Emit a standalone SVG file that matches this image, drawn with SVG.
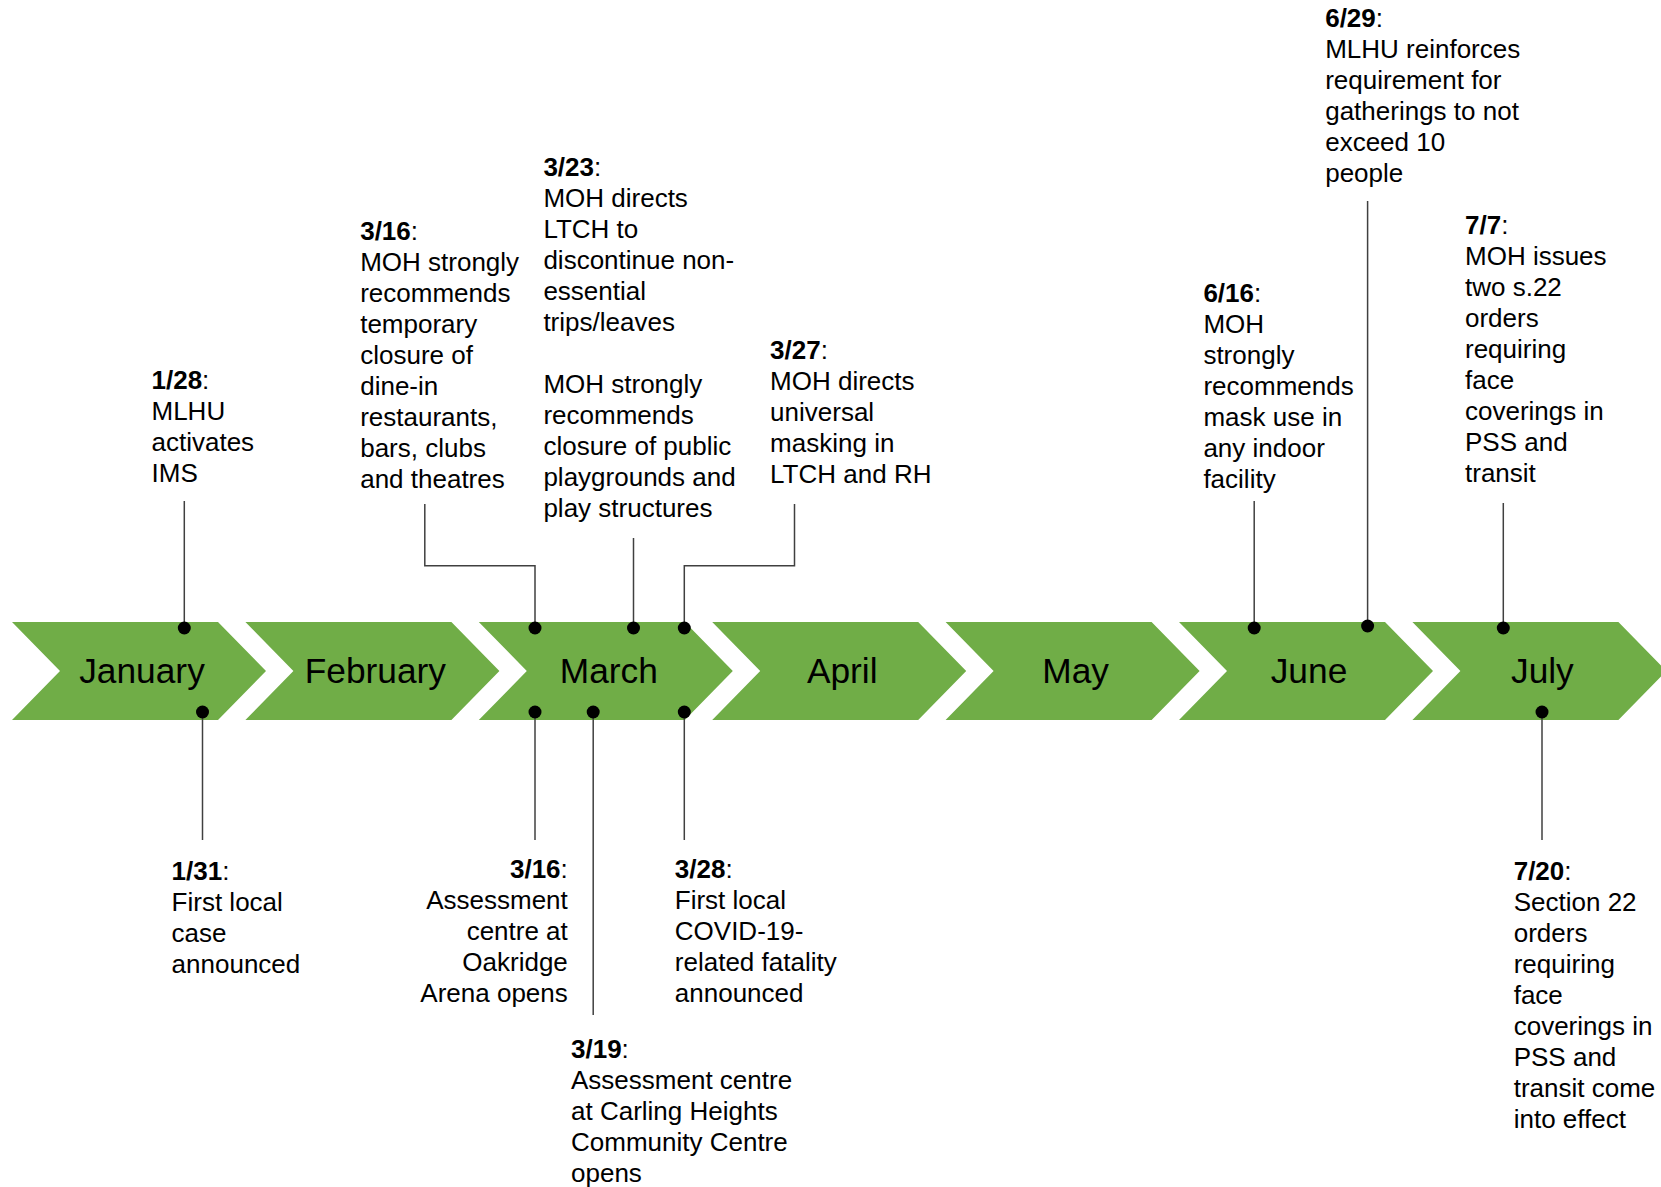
<svg xmlns="http://www.w3.org/2000/svg" width="1661" height="1187" viewBox="0 0 1661 1187">
<style>
.chev{fill:#70AD47}
.mon{font-family:"Liberation Sans",Arial,sans-serif;font-size:35.3px;fill:#000;text-anchor:middle}
.t{font-family:"Liberation Sans",Arial,sans-serif;font-size:26px;fill:#000}
.b{font-weight:bold}
.ln{fill:none;stroke:#404040;stroke-width:1.5}
.dot{fill:#000}
</style>
<defs>
<path id="chv" d="M0 622 H206 L254 671 L206 720 H0 L48 671 Z"/>
</defs>
<rect width="1661" height="1187" fill="#fff"/>
<g id="months">
<g id="m-jan"><use href="#chv" class="chev" x="12"/><text class="mon" x="142" y="682.5">January</text></g>
<g id="m-feb"><use href="#chv" class="chev" x="245.4"/><text class="mon" x="375.4" y="682.5">February</text></g>
<g id="m-mar"><use href="#chv" class="chev" x="478.8"/><text class="mon" x="608.8" y="682.5">March</text></g>
<g id="m-apr"><use href="#chv" class="chev" x="712.2"/><text class="mon" x="842.2" y="682.5">April</text></g>
<g id="m-may"><use href="#chv" class="chev" x="945.6"/><text class="mon" x="1075.6" y="682.5">May</text></g>
<g id="m-jun"><use href="#chv" class="chev" x="1179"/><text class="mon" x="1309" y="682.5">June</text></g>
<g id="m-jul"><use href="#chv" class="chev" x="1412.4"/><text class="mon" x="1542.4" y="682.5">July</text></g>
</g>
<g id="connectors">
<path class="ln" d="M184.3 501 V628"/>
<path class="ln" d="M424.8 504 V565.7 H535 V628"/>
<path class="ln" d="M633.5 538 V628"/>
<path class="ln" d="M794.5 504 V565.7 H684.3 V628"/>
<path class="ln" d="M1254.2 501 V628"/>
<path class="ln" d="M1367.6 201 V626"/>
<path class="ln" d="M1503.3 503 V628"/>
<path class="ln" d="M202.5 712 V840"/>
<path class="ln" d="M535 712 V840"/>
<path class="ln" d="M593.2 712 V1015"/>
<path class="ln" d="M684.3 712 V840"/>
<path class="ln" d="M1542 712 V840"/>
<circle class="dot" cx="184.3" cy="628" r="6.5"/>
<circle class="dot" cx="535" cy="628" r="6.5"/>
<circle class="dot" cx="633.5" cy="628" r="6.5"/>
<circle class="dot" cx="684.3" cy="628" r="6.5"/>
<circle class="dot" cx="1254.2" cy="628" r="6.5"/>
<circle class="dot" cx="1367.6" cy="626" r="6.5"/>
<circle class="dot" cx="1503.3" cy="628" r="6.5"/>
<circle class="dot" cx="202.5" cy="712" r="6.5"/>
<circle class="dot" cx="535" cy="712" r="6.5"/>
<circle class="dot" cx="593.2" cy="712" r="6.5"/>
<circle class="dot" cx="684.3" cy="712" r="6.5"/>
<circle class="dot" cx="1542" cy="712" r="6.5"/>
</g>
<g id="e-0128"><text class="t" x="151.5" y="388.5"><tspan class="b">1/28</tspan>:<tspan x="151.5" dy="31">MLHU</tspan><tspan x="151.5" dy="31">activates</tspan><tspan x="151.5" dy="31">IMS</tspan></text></g>
<g id="e-0316a"><text class="t" x="360.2" y="239.5"><tspan class="b">3/16</tspan>:<tspan x="360.2" dy="31">MOH strongly</tspan><tspan x="360.2" dy="31">recommends</tspan><tspan x="360.2" dy="31">temporary</tspan><tspan x="360.2" dy="31">closure of</tspan><tspan x="360.2" dy="31">dine-in</tspan><tspan x="360.2" dy="31">restaurants,</tspan><tspan x="360.2" dy="31">bars, clubs</tspan><tspan x="360.2" dy="31">and theatres</tspan></text></g>
<g id="e-0323"><text class="t" x="543.4" y="175.8"><tspan class="b">3/23</tspan>:<tspan x="543.4" dy="31">MOH directs</tspan><tspan x="543.4" dy="31">LTCH to</tspan><tspan x="543.4" dy="31">discontinue non-</tspan><tspan x="543.4" dy="31">essential</tspan><tspan x="543.4" dy="31">trips/leaves</tspan><tspan x="543.4" dy="62">MOH strongly</tspan><tspan x="543.4" dy="31">recommends</tspan><tspan x="543.4" dy="31">closure of public</tspan><tspan x="543.4" dy="31">playgrounds and</tspan><tspan x="543.4" dy="31">play structures</tspan></text></g>
<g id="e-0327"><text class="t" x="770.1" y="359"><tspan class="b">3/27</tspan>:<tspan x="770.1" dy="31">MOH directs</tspan><tspan x="770.1" dy="31">universal</tspan><tspan x="770.1" dy="31">masking in</tspan><tspan x="770.1" dy="31">LTCH and RH</tspan></text></g>
<g id="e-0616"><text class="t" x="1203.4" y="301.8"><tspan class="b">6/16</tspan>:<tspan x="1203.4" dy="31">MOH</tspan><tspan x="1203.4" dy="31">strongly</tspan><tspan x="1203.4" dy="31">recommends</tspan><tspan x="1203.4" dy="31">mask use in</tspan><tspan x="1203.4" dy="31">any indoor</tspan><tspan x="1203.4" dy="31">facility</tspan></text></g>
<g id="e-0629"><text class="t" x="1325.2" y="27"><tspan class="b">6/29</tspan>:<tspan x="1325.2" dy="31">MLHU reinforces</tspan><tspan x="1325.2" dy="31">requirement for</tspan><tspan x="1325.2" dy="31">gatherings to not</tspan><tspan x="1325.2" dy="31">exceed 10</tspan><tspan x="1325.2" dy="31">people</tspan></text></g>
<g id="e-0707"><text class="t" x="1465" y="234"><tspan class="b">7/7</tspan>:<tspan x="1465" dy="31">MOH issues</tspan><tspan x="1465" dy="31">two s.22</tspan><tspan x="1465" dy="31">orders</tspan><tspan x="1465" dy="31">requiring</tspan><tspan x="1465" dy="31">face</tspan><tspan x="1465" dy="31">coverings in</tspan><tspan x="1465" dy="31">PSS and</tspan><tspan x="1465" dy="31">transit</tspan></text></g>
<g id="e-0131"><text class="t" x="171.6" y="880"><tspan class="b">1/31</tspan>:<tspan x="171.6" dy="31">First local</tspan><tspan x="171.6" dy="31">case</tspan><tspan x="171.6" dy="31">announced</tspan></text></g>
<g id="e-0316b"><text class="t" x="567.8" y="878" text-anchor="end"><tspan class="b">3/16</tspan>:<tspan x="567.8" dy="31">Assessment</tspan><tspan x="567.8" dy="31">centre at</tspan><tspan x="567.8" dy="31">Oakridge</tspan><tspan x="567.8" dy="31">Arena opens</tspan></text></g>
<g id="e-0319"><text class="t" x="571" y="1058"><tspan class="b">3/19</tspan>:<tspan x="571" dy="31">Assessment centre</tspan><tspan x="571" dy="31">at Carling Heights</tspan><tspan x="571" dy="31">Community Centre</tspan><tspan x="571" dy="31">opens</tspan></text></g>
<g id="e-0328"><text class="t" x="674.8" y="878"><tspan class="b">3/28</tspan>:<tspan x="674.8" dy="31">First local</tspan><tspan x="674.8" dy="31">COVID-19-</tspan><tspan x="674.8" dy="31">related fatality</tspan><tspan x="674.8" dy="31">announced</tspan></text></g>
<g id="e-0720"><text class="t" x="1513.7" y="880"><tspan class="b">7/20</tspan>:<tspan x="1513.7" dy="31">Section 22</tspan><tspan x="1513.7" dy="31">orders</tspan><tspan x="1513.7" dy="31">requiring</tspan><tspan x="1513.7" dy="31">face</tspan><tspan x="1513.7" dy="31">coverings in</tspan><tspan x="1513.7" dy="31">PSS and</tspan><tspan x="1513.7" dy="31">transit come</tspan><tspan x="1513.7" dy="31">into effect</tspan></text></g>
</svg>
